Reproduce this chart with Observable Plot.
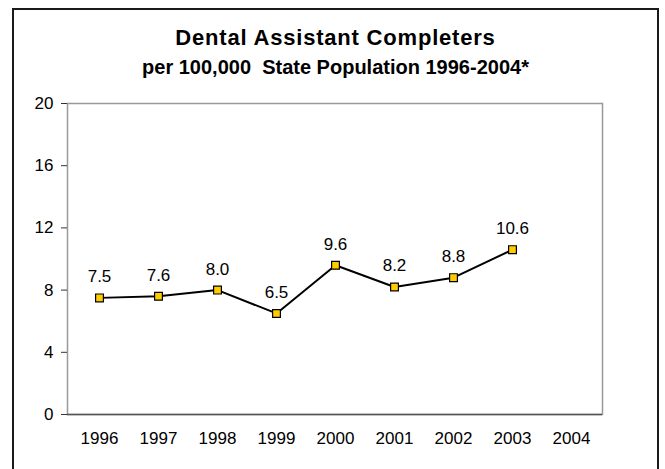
<!DOCTYPE html>
<html>
<head>
<meta charset="utf-8">
<script src="https://cdn.jsdelivr.net/npm/d3@7"></script>
<script src="https://cdn.jsdelivr.net/npm/@observablehq/plot@0.6"></script>
<style>
  html, body { margin: 0; padding: 0; background: #fff; }
  #wrap { position: relative; width: 665px; height: 469px; overflow: hidden; font-family: "Liberation Sans", Arial, sans-serif; }
  #frame { position: absolute; left: 12px; top: 8px; width: 647px; height: 480px; border: 2px solid #1a1a1a; box-sizing: border-box; }
  .title { position: absolute; left: 12px; width: 647px; text-align: center; font-weight: bold; line-height: 28.5px; color: #000; white-space: nowrap; }
  #t1 { top: 24px; font-size: 22px; letter-spacing: 0.8px; }
  #t2 { top: 53px; font-size: 20px; }
  #chart { position: absolute; left: 0; top: 0; }
</style>
</head>
<body>
<div id="wrap">
  <div id="frame"></div>
  <div class="title" id="t1">Dental Assistant Completers</div>
  <div class="title" id="t2">per 100,000&nbsp; State Population 1996-2004*</div>
  <div id="chart"></div>
</div>
<script>
const years = ["1996","1997","1998","1999","2000","2001","2002","2003","2004"];
const plottedYears = ["1996","1997","1998","1999","2000","2001","2002","2003"];
const values = [7.5, 7.6, 8.0, 6.5, 9.6, 8.2, 8.8, 10.6];
const labels = ["7.5","7.6","8.0","6.5","9.6","8.2","8.8","10.6"];
const yTicks = [0, 4, 8, 12, 16, 20];

const data = plottedYears.map((y, i) => ({year: y, value: values[i], label: labels[i]}));

const chart = Plot.plot({
  width: 665,
  height: 469,
  marginLeft: 67,
  marginRight: 63,
  marginTop: 103,
  marginBottom: 55,
  style: {fontFamily: "'Liberation Sans', Arial, sans-serif", fontSize: "17px", background: "transparent", color: "#000"},
  x: {type: "point", domain: years, padding: 0.5, label: null},
  y: {domain: [0, 20], ticks: yTicks, label: null},
  marks: [
    Plot.frame({stroke: "#999", strokeWidth: 1.5}),
    Plot.axisY({ticks: yTicks, tickSize: 6, tickPadding: 8, fontSize: 17, stroke: "#333", strokeOpacity: 1, label: null}),
    Plot.axisX({tickSize: 0, tickPadding: 17, fontSize: 17, label: null}),
    Plot.ruleX([0], {x: () => 0, frameAnchor: "left", stroke: "#333", strokeWidth: 1.5}),
    Plot.ruleY([0], {stroke: "#555", strokeWidth: 1.5}),
    Plot.line(data, {x: "year", y: "value", stroke: "#000", strokeWidth: 2}),
    Plot.dot(data, {x: "year", y: "value", symbol: "square", r: 4.4, fill: "#FFCC00", stroke: "#000", strokeWidth: 1.2}),
    Plot.text(data, {x: "year", y: "value", text: "label", dy: -21, fontSize: 17, fill: "#000"})
  ]
});
document.getElementById("chart").appendChild(chart);
</script>
</body>
</html>
